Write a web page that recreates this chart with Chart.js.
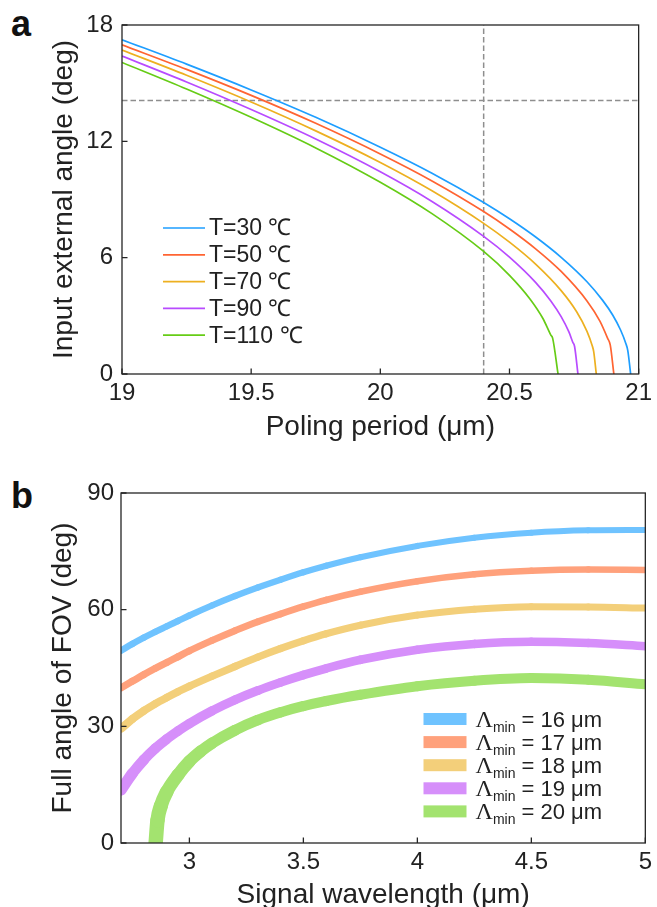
<!DOCTYPE html>
<html>
<head>
<meta charset="utf-8">
<script src="https://cdn.jsdelivr.net/npm/chart.js@4.4.1/dist/chart.umd.min.js"></script>
<style>
  html, body { margin: 0; padding: 0; background: #fff; }
  body { position: relative; width: 657px; height: 907px; overflow: hidden; font-family: "Liberation Sans", Arial, sans-serif; }
  .panel { position: absolute; left: 0; }
  #boxA { top: 0; width: 657px; height: 460px; }
  #boxB { top: 470px; width: 657px; height: 437px; }
  .tag { position: absolute; font-weight: bold; font-size: 36px; line-height: 36px; color: #111; }
</style>
</head>
<body>
<div class="tag" style="left:11px; top:6px;">a</div>
<div class="tag" style="left:11px; top:478px;">b</div>
<div class="panel" id="boxA"><canvas id="chartA" width="657" height="460"></canvas></div>
<div class="panel" id="boxB"><canvas id="chartB" width="657" height="437"></canvas></div>
<script>
// ---------- (a) input external angle vs poling period ----------
const temperatures = [30, 50, 70, 90, 110];

const period30 = [19, 19.25, 19.5, 19.75, 20, 20.2, 20.4, 20.5, 20.6, 20.7, 20.8, 20.86, 20.9, 20.93, 20.95, 20.958, 20.969];
const angle30  = [17.24, 15.98, 14.65, 13.24, 11.70, 10.36, 8.85, 8.01, 7.08, 6.02, 4.76, 3.81, 3.03, 2.27, 1.59, 1.21, 0];

const period50 = [19, 19.25, 19.5, 19.75, 20, 20.2, 20.4, 20.5, 20.6, 20.7, 20.8, 20.85, 20.88, 20.89, 20.904];
const angle50  = [16.98, 15.71, 14.37, 12.93, 11.35, 9.96, 8.38, 7.48, 6.47, 5.29, 3.77, 2.73, 1.84, 1.5, 0];

const period70 = [19, 19.25, 19.5, 19.75, 20, 20.2, 20.4, 20.5, 20.6, 20.7, 20.76, 20.8, 20.82, 20.826, 20.836];
const angle70  = [16.71, 15.41, 14.03, 12.54, 10.91, 9.45, 7.77, 6.80, 5.68, 4.30, 3.21, 2.20, 1.47, 1.16, 0];

const period90 = [19, 19.25, 19.5, 19.75, 20, 20.2, 20.4, 20.5, 20.6, 20.66, 20.7, 20.73, 20.745, 20.752, 20.765];
const angle90  = [16.40, 15.06, 13.64, 12.12, 10.43, 8.90, 7.10, 6.03, 4.74, 3.77, 2.96, 2.17, 1.64, 1.42, 0];

const period110 = [19, 19.25, 19.5, 19.75, 20, 20.2, 20.4, 20.5, 20.58, 20.63, 20.66, 20.667, 20.688];
const angle110  = [16.07, 14.70, 13.24, 11.66, 9.89, 8.27, 6.32, 5.09, 3.86, 2.85, 2.01, 1.85, 0];

const guideAngle = 14.1;    // horizontal reference
const guidePeriod = 20.4;   // vertical reference

const periodTicks = [19, 19.5, 20, 20.5, 21];
const angleTicks = [0, 6, 12, 18];

// ---------- (b) full FOV angle vs signal wavelength ----------
const lambdaMin = [16, 17, 18, 19, 20];

const wavelength = [2.7, 2.75, 2.8, 2.85, 2.9, 2.95, 3.0, 3.1, 3.2, 3.3, 3.4, 3.5, 3.6, 3.75, 4.0, 4.25, 4.5, 4.75, 5.0];
const fov16 = [49.5, 51.2, 52.8, 54.3, 55.7, 57.1, 58.5, 61.1, 63.5, 65.7, 67.7, 69.6, 71.3, 73.5, 76.4, 78.5, 79.8, 80.4, 80.5];
const fov17 = [39.9, 41.6, 43.3, 44.9, 46.4, 47.9, 49.4, 52.1, 54.6, 56.9, 58.9, 60.8, 62.5, 64.6, 67.3, 69.1, 70.0, 70.3, 70.2];
const fov18 = [29.4, 31.9, 34.0, 35.8, 37.4, 38.9, 40.3, 42.9, 45.4, 47.8, 50.0, 52.0, 53.8, 56.0, 58.6, 60.1, 60.75, 60.7, 60.4];
const fov19 = [13.6, 17.9, 21.4, 24.3, 26.7, 28.8, 30.7, 34.0, 36.8, 39.2, 41.3, 43.2, 44.9, 47.1, 49.7, 51.2, 51.75, 51.4, 50.6];

const wavelength20 = [2.852, 2.86, 2.875, 2.9, 2.95, 3.0, 3.05, 3.1, 3.2, 3.3, 3.4, 3.5, 3.6, 3.75, 4.0, 4.25, 4.5, 4.75, 5.0];
const fov20 = [0, 5.8, 9.6, 13.1, 17.5, 21.0, 23.6, 25.7, 29.0, 31.6, 33.6, 35.2, 36.5, 38.1, 40.3, 41.7, 42.4, 42.0, 40.8];

const wavelengthTicks = [3, 3.5, 4, 4.5, 5];
const fovTicks = [0, 30, 60, 90];

// ---------- shared styling ----------
const FONT = '"Liberation Sans", Arial, Helvetica, sans-serif';
const INK = '#222222';
const colorsA = ['#1E9EFF', '#FF6432', '#EDB020', '#B84BFF', '#66CC16'];
const colorsB = ['#6FC3FF', '#FFA17C', '#F3CF7A', '#D68FFA', '#A3E36F'];
const widthsB = [6, 6.5, 7, 8.5, 10];

const toPoints = (xs, ys) => xs.map((x, i) => ({ x, y: ys[i] }));
const fixedTicks = list => scale => { scale.ticks = list.map(v => ({ value: v })); };

// the bands in (b) get wider where they climb steeply
const bandWidth = base => seg => {
  const dx = seg.p1.x - seg.p0.x;
  const dy = seg.p1.y - seg.p0.y;
  const steep = (dy * dy) / (dx * dx + dy * dy || 1);
  return base * (1 + 0.45 * steep);
};

// box around the plot area plus inward tick marks
const framePlugin = {
  id: 'frame',
  afterDatasetsDraw(chart, args, opts) {
    const { ctx, chartArea: { left, right, top, bottom }, scales: { x, y } } = chart;
    ctx.save();
    ctx.strokeStyle = '#262626';
    ctx.lineWidth = 1.3;
    ctx.beginPath();
    x.ticks.forEach(t => {
      const px = x.getPixelForValue(t.value);
      ctx.moveTo(px, bottom); ctx.lineTo(px, bottom - opts.tick);
    });
    y.ticks.forEach(t => {
      const py = y.getPixelForValue(t.value);
      ctx.moveTo(left, py); ctx.lineTo(left + opts.tick, py);
    });
    ctx.stroke();
    ctx.strokeRect(left, top, right - left, bottom - top);
    ctx.restore();
  }
};

// legend for panel (a): short line samples with labels
const legendLinesPlugin = {
  id: 'legendLines',
  afterDatasetsDraw(chart, args, opts) {
    const { ctx, chartArea } = chart;
    ctx.save();
    ctx.font = `${opts.fontSize}px ${FONT}`;
    ctx.textBaseline = 'middle';
    ctx.textAlign = 'left';
    let row = 0;
    chart.data.datasets.forEach(ds => {
      if (!ds.label) return;
      const y = chartArea.top + opts.top + row * opts.step;
      const x0 = chartArea.left + opts.left;
      ctx.strokeStyle = ds.borderColor;
      ctx.lineWidth = ds.borderWidth;
      ctx.beginPath();
      ctx.moveTo(x0, y); ctx.lineTo(x0 + opts.lineLen, y);
      ctx.stroke();
      ctx.fillStyle = INK;
      ctx.fillText(ds.label, x0 + opts.lineLen + opts.gap, y + 1);
      row++;
    });
    ctx.restore();
  }
};

// legend for panel (b): colour swatches with subscripted labels
const legendSwatchPlugin = {
  id: 'legendSwatch',
  afterDatasetsDraw(chart, args, opts) {
    const { ctx, chartArea } = chart;
    ctx.save();
    ctx.textBaseline = 'alphabetic';
    ctx.textAlign = 'left';
    chart.data.datasets.forEach((ds, i) => {
      const yc = chartArea.top + opts.top + i * opts.step;
      const x0 = chartArea.left + opts.left;
      ctx.fillStyle = ds.borderColor;
      ctx.fillRect(x0, yc - opts.boxH / 2, opts.boxW, opts.boxH);
      // label text is "Λmin = NN μm": symbol, subscript, remainder
      const m = ds.label.match(/^(Λ)(min)(.*)$/);
      const base = yc + opts.fontSize * 0.36;
      let tx = x0 + opts.boxW + opts.gap;
      ctx.fillStyle = INK;
      ctx.font = `${opts.fontSize + 2}px "Liberation Serif", "Times New Roman", serif`;
      ctx.fillText(m[1], tx, base);
      tx += ctx.measureText(m[1]).width;
      ctx.font = `${opts.subSize}px ${FONT}`;
      ctx.fillText(m[2], tx, base + opts.subDrop);
      tx += ctx.measureText(m[2]).width;
      ctx.font = `${opts.fontSize}px ${FONT}`;
      ctx.fillText(m[3], tx, base);
    });
    ctx.restore();
  }
};

const baseOptions = {
  responsive: false,
  devicePixelRatio: 1,
  animation: false,
  events: [],
  plugins: { legend: { display: false }, tooltip: { enabled: false } },
  elements: { point: { radius: 0 } }
};

// ---------- chart (a) ----------
const seriesA = [
  [period30, angle30], [period50, angle50], [period70, angle70], [period90, angle90], [period110, angle110]
];
const datasetsA = seriesA.map(([xs, ys], i) => ({
  label: `T=${temperatures[i]} ℃`,
  data: toPoints(xs, ys),
  borderColor: colorsA[i],
  borderWidth: 1.7,
  cubicInterpolationMode: 'monotone',
  clip: 0,
  fill: false
}));
datasetsA.push({
  label: '',
  data: [{ x: 19, y: guideAngle }, { x: 21, y: guideAngle }],
  borderColor: '#8E8E8E', borderWidth: 1.5, borderDash: [5.5, 3], clip: 0, fill: false
});
datasetsA.push({
  label: '',
  data: [{ x: guidePeriod, y: 0 }, { x: guidePeriod, y: 18 }],
  borderColor: '#8E8E8E', borderWidth: 1.5, borderDash: [5.5, 3], clip: 0, fill: false
});

new Chart(document.getElementById('chartA'), {
  type: 'line',
  data: { datasets: datasetsA },
  options: {
    ...baseOptions,
    layout: { padding: { left: 0, top: 25, right: 13, bottom: 0 } },
    scales: {
      x: {
        type: 'linear', min: 19, max: 21,
        afterBuildTicks: fixedTicks(periodTicks),
        afterFit: s => { s.height = 86; },
        grid: { display: false, drawTicks: false },
        border: { display: false },
        ticks: { font: { family: FONT, size: 24 }, color: INK, padding: 5, maxRotation: 0, autoSkip: false, callback: v => String(v) },
        title: { display: true, text: 'Poling period (μm)', color: INK, font: { family: FONT, size: 28 }, padding: { top: 0, bottom: 16 } }
      },
      y: {
        type: 'linear', min: 0, max: 18,
        afterBuildTicks: fixedTicks(angleTicks),
        afterFit: s => { s.width = 122; },
        grid: { display: false, drawTicks: false },
        border: { display: false },
        ticks: { font: { family: FONT, size: 24 }, color: INK, padding: 9, autoSkip: false, callback: v => String(v) },
        title: { display: true, text: 'Input external angle (deg)', color: INK, font: { family: FONT, size: 28 }, padding: { top: 47, bottom: 0 } }
      }
    },
    plugins: {
      ...baseOptions.plugins,
      frame: { tick: 5.5 },
      legendLines: { left: 41, top: 203, step: 26.8, lineLen: 42, gap: 4, fontSize: 23 }
    }
  },
  plugins: [framePlugin, legendLinesPlugin]
});

// ---------- chart (b) ----------
const seriesB = [
  [wavelength, fov16], [wavelength, fov17], [wavelength, fov18], [wavelength, fov19], [wavelength20, fov20]
];
const datasetsB = seriesB.map(([xs, ys], i) => ({
  label: `Λmin = ${lambdaMin[i]} μm`,
  data: toPoints(xs, ys),
  borderColor: colorsB[i],
  borderWidth: widthsB[i],
  borderCapStyle: 'round',
  borderJoinStyle: 'round',
  segment: { borderWidth: bandWidth(widthsB[i]) },
  cubicInterpolationMode: 'monotone',
  clip: 0,
  fill: false
}));

new Chart(document.getElementById('chartB'), {
  type: 'line',
  data: { datasets: datasetsB },
  options: {
    ...baseOptions,
    layout: { padding: { left: 0, top: 23, right: 10, bottom: 0 } },
    scales: {
      x: {
        type: 'linear', min: 2.7, max: 5,
        afterBuildTicks: fixedTicks(wavelengthTicks),
        afterFit: s => { s.height = 64; },
        grid: { display: false, drawTicks: false },
        border: { display: false },
        ticks: { font: { family: FONT, size: 24 }, color: INK, padding: 5, maxRotation: 0, autoSkip: false, callback: v => String(v) },
        title: { display: true, text: 'Signal wavelength (μm)', color: INK, font: { family: FONT, size: 28, lineHeight: 0.86 }, padding: { top: 0, bottom: 0 } }
      },
      y: {
        type: 'linear', min: 0, max: 90,
        afterBuildTicks: fixedTicks(fovTicks),
        afterFit: s => { s.width = 121; },
        grid: { display: false, drawTicks: false },
        border: { display: false },
        ticks: { font: { family: FONT, size: 24 }, color: INK, padding: 7, autoSkip: false, callback: v => String(v) },
        title: { display: true, text: 'Full angle of FOV (deg)', color: INK, font: { family: FONT, size: 28 }, padding: { top: 46, bottom: 0 } }
      }
    },
    plugins: {
      ...baseOptions.plugins,
      frame: { tick: 5.5 },
      legendSwatch: { left: 302.5, top: 226, step: 23.1, boxW: 43, boxH: 12, gap: 9, fontSize: 22, subSize: 14, subDrop: 5 }
    }
  },
  plugins: [framePlugin, legendSwatchPlugin]
});
</script>
</body>
</html>
